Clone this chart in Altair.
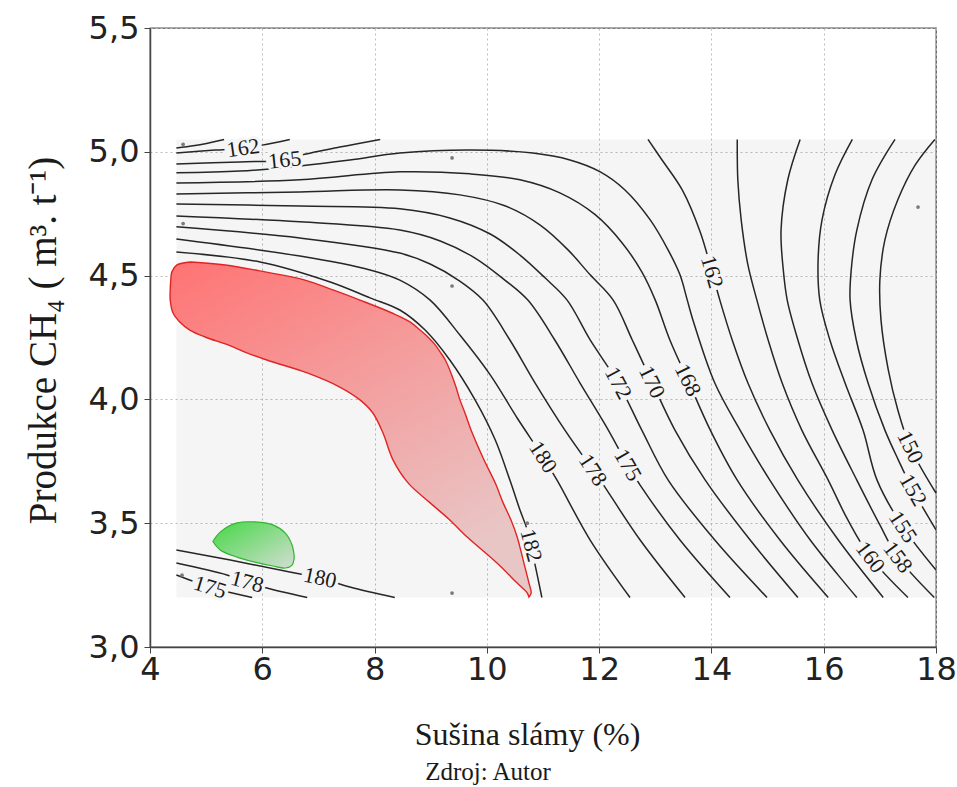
import altair as alt
import pandas as pd

# Extent of the fitted response surface (grey field)
X_MIN, X_MAX = 4.47, 18.0
Y_MIN, Y_MAX = 3.2, 5.05

# Contour pieces: vertices in (sušina %, produkce m3/t)
c160a_x = [4.47, 4.80, 5.32]
c160a_y = [5.015, 5.025, 5.05]

c162a_x = [4.47, 5.16, 5.66, 6.00, 6.49]
c162a_y = [4.995, 5.007, 5.015, 5.027, 5.05]

c165a_x = [4.47, 5.60, 6.40, 6.71, 7.38, 8.10]
c165a_y = [4.951, 4.959, 4.967, 4.987, 5.019, 5.05]

c165_x = [4.47, 5.60, 6.67, 7.56, 8.45, 9.70, 10.82, 11.48, 12.02, 12.46, 12.91, 13.23,
          13.44, 13.57, 13.67, 14.06, 14.51, 15.04, 15.76, 16.59]
c165_y = [4.915, 4.922, 4.943, 4.967, 4.995, 5.007, 4.995, 4.967, 4.919, 4.846, 4.725, 4.603,
          4.503, 4.401, 4.321, 4.066, 3.876, 3.674, 3.432, 3.2]

c168_x = [4.47, 6.67, 8.45, 9.70, 10.59, 11.30, 11.93, 12.41, 12.76, 13.00, 13.26, 13.58,
          13.98, 14.46, 15.22, 16.08]
c168_y = [4.874, 4.887, 4.919, 4.911, 4.887, 4.834, 4.746, 4.632, 4.515, 4.401, 4.240, 4.078,
          3.876, 3.674, 3.432, 3.2]

c170_x = [4.47, 6.67, 8.45, 9.52, 10.32, 10.95, 11.45, 11.84, 12.25, 12.59, 12.94, 13.35,
          13.89, 14.69, 15.54]
c170_y = [4.830, 4.838, 4.846, 4.826, 4.782, 4.704, 4.603, 4.503, 4.401, 4.240, 4.070, 3.876,
          3.674, 3.432, 3.2]

c172_x = [4.47, 6.67, 8.45, 9.34, 10.06, 10.59, 11.04, 11.43, 11.84, 12.34, 12.76, 13.23,
          14.06, 14.99]
c172_y = [4.789, 4.781, 4.770, 4.733, 4.668, 4.583, 4.490, 4.401, 4.240, 4.066, 3.876, 3.674,
          3.432, 3.2]

c175_x = [4.47, 6.67, 8.45, 9.17, 9.79, 10.32, 10.73, 11.21, 11.66, 12.11, 12.51, 12.73,
          13.44, 14.33]
c175_y = [4.741, 4.717, 4.684, 4.640, 4.571, 4.482, 4.401, 4.240, 4.066, 3.897, 3.735, 3.654,
          3.432, 3.2]

c178_x = [4.47, 6.67, 8.45, 8.99, 9.49, 9.93, 10.41, 10.86, 11.39, 11.89, 12.02, 12.73, 13.53]
c178_y = [4.697, 4.652, 4.591, 4.547, 4.482, 4.401, 4.240, 4.066, 3.876, 3.715, 3.674, 3.432, 3.2]

c180_x = [4.47, 6.67, 7.92, 8.45, 8.99, 9.52, 10.06, 10.54, 11.00, 11.25, 11.84, 12.55]
c180_y = [4.648, 4.579, 4.523, 4.482, 4.401, 4.260, 4.099, 3.925, 3.767, 3.674, 3.432, 3.2]

c182_x = [4.47, 5.96, 7.21, 7.92, 8.45, 8.90, 9.34, 9.79, 10.15, 10.41, 10.59, 10.72, 10.86, 10.98]
c182_y = [4.595, 4.555, 4.474, 4.410, 4.361, 4.280, 4.159, 3.998, 3.836, 3.674, 3.553, 3.473,
          3.331, 3.2]

c162b_x = [12.87, 13.12, 13.48, 13.80, 14.01, 14.15, 14.37, 14.65, 15.04, 15.54, 16.26, 17.06]
c162b_y = [5.05, 4.967, 4.846, 4.676, 4.515, 4.401, 4.240, 4.066, 3.876, 3.674, 3.432, 3.2]

c160b_x = [14.46, 14.47, 14.53, 14.65, 14.81, 15.01, 15.26, 15.61, 16.08, 16.43, 16.83, 17.50]
c160b_y = [5.05, 4.887, 4.725, 4.543, 4.401, 4.240, 4.066, 3.876, 3.674, 3.513, 3.363, 3.2]

c158_x = [15.58, 15.36, 15.24, 15.28, 15.35, 15.54, 15.79, 16.15, 16.59, 17.00, 17.32, 17.97]
c158_y = [5.05, 4.887, 4.684, 4.523, 4.401, 4.240, 4.066, 3.876, 3.674, 3.493, 3.363, 3.2]

c155_x = [16.51, 16.20, 15.97, 15.90, 15.93, 16.11, 16.38, 16.70, 16.95, 17.41, 18.0]
c155_y = [5.05, 4.907, 4.725, 4.563, 4.401, 4.240, 4.066, 3.876, 3.674, 3.485, 3.311]

c152_x = [17.27, 16.86, 16.59, 16.49, 16.47, 16.58, 16.79, 17.09, 17.33, 17.59, 18.0]
c152_y = [5.05, 4.887, 4.684, 4.523, 4.401, 4.240, 4.066, 3.876, 3.755, 3.634, 3.473]

c150_x = [17.98, 17.63, 17.32, 17.09, 17.00, 17.02, 17.15, 17.32, 17.54, 18.0]
c150_y = [5.05, 4.947, 4.806, 4.644, 4.482, 4.321, 4.119, 3.957, 3.808, 3.622]

c180b_x = [4.47, 5.43, 6.49, 7.03, 7.56, 8.36]
c180b_y = [3.392, 3.351, 3.303, 3.279, 3.242, 3.2]

c178b_x = [4.47, 5.37, 5.73, 6.01, 6.80]
c178b_y = [3.339, 3.291, 3.263, 3.242, 3.2]

c175b_x = [4.47, 5.07, 5.39, 5.82]
c175b_y = [3.291, 3.242, 3.222, 3.2]

pieces = [
    ("c160a", 160.0, c160a_x, c160a_y), ("c162a", 162.5, c162a_x, c162a_y),
    ("c165a", 165.0, c165a_x, c165a_y), ("c165", 165.0, c165_x, c165_y),
    ("c168", 167.5, c168_x, c168_y), ("c170", 170.0, c170_x, c170_y),
    ("c172", 172.5, c172_x, c172_y), ("c175", 175.0, c175_x, c175_y),
    ("c178", 177.5, c178_x, c178_y), ("c180", 180.0, c180_x, c180_y),
    ("c182", 182.5, c182_x, c182_y), ("c162b", 162.5, c162b_x, c162b_y),
    ("c160b", 160.0, c160b_x, c160b_y), ("c158", 157.5, c158_x, c158_y),
    ("c155", 155.0, c155_x, c155_y), ("c152", 152.5, c152_x, c152_y),
    ("c150", 150.0, c150_x, c150_y), ("c180b", 180.0, c180b_x, c180b_y),
    ("c178b", 177.5, c178b_x, c178b_y), ("c175b", 175.0, c175b_x, c175b_y),
]

# Inline contour labels: text, position, rotation (deg, clockwise)
label_text = ["162", "165", "168", "170", "172", "175", "178", "180", "182",
              "162", "160", "158", "155", "152", "150", "180", "178", "175"]
label_x = [5.66, 6.40, 13.58, 12.94, 12.34, 12.51, 11.89, 11.00, 10.79,
           14.01, 16.83, 17.32, 17.41, 17.59, 17.54, 7.03, 5.73, 5.07]
label_y = [5.015, 4.967, 4.078, 4.070, 4.066, 3.735, 3.715, 3.767, 3.41,
           4.515, 3.363, 3.363, 3.485, 3.634, 3.808, 3.279, 3.263, 3.242]
label_angle = [352, 354, 64, 64, 62, 60, 57, 57, 75,
               74, 53, 53, 57, 60, 64, 12, 15, 17]

# Optimum region (red) bounded left/right at each production level
red_y = [4.555, 4.543, 4.515, 4.482, 4.442, 4.401, 4.349, 4.313, 4.280, 4.252, 4.220, 4.191,
         4.159, 4.107, 4.050, 3.998, 3.945, 3.864, 3.755, 3.662, 3.582, 3.513, 3.444, 3.339,
         3.258, 3.218, 3.202]
red_left = [4.73, 4.48, 4.39, 4.37, 4.36, 4.36, 4.41, 4.53, 4.71, 4.98, 5.39, 5.69,
            6.08, 6.80, 7.38, 7.74, 7.97, 8.15, 8.33, 8.60, 8.99, 9.34, 9.65, 10.18,
            10.54, 10.72, 10.75]
red_right = [4.73, 5.34, 6.05, 6.76, 7.26, 7.74, 8.31, 8.63, 8.81, 8.95, 9.08, 9.17,
             9.26, 9.36, 9.45, 9.52, 9.61, 9.74, 9.95, 10.15, 10.29, 10.43, 10.54, 10.66,
             10.75, 10.79, 10.75]

# Secondary region (green)
green_x = [5.12, 5.25, 5.55, 5.87, 6.19, 6.41, 6.53, 6.57]
green_top = [3.426, 3.464, 3.501, 3.505, 3.493, 3.460, 3.412, 3.364]
green_bot = [3.426, 3.392, 3.363, 3.343, 3.327, 3.319, 3.331, 3.364]

# Measured design points
pts_x = [4.59, 4.59, 9.38, 9.38, 9.38, 17.68, 4.57, 10.72]
pts_y = [5.03, 4.71, 4.975, 4.458, 3.218, 4.777, 3.29, 3.50]

x_ticks = [4, 6, 8, 10, 12, 14, 16, 18]
y_ticks = [3.0, 3.5, 4.0, 4.5, 5.0, 5.5]

# ---- tables ----
line_rows = []
for name, lev, xs, ys in pieces:
    for i, (xv, yv) in enumerate(zip(xs, ys)):
        line_rows.append({"piece": name, "level": lev, "i": i, "x": xv, "y": yv})
lines_df = pd.DataFrame(line_rows)
labels_df = pd.DataFrame({"t": label_text, "x": label_x, "y": label_y, "a": label_angle})
red_df = pd.DataFrame({"y": red_y, "x": red_left, "x2": red_right})
green_df = pd.DataFrame({"x": green_x, "y": green_top, "y2": green_bot})
pts_df = pd.DataFrame({"x": pts_x, "y": pts_y})
field_df = pd.DataFrame({"x": [X_MIN], "x2": [X_MAX], "y": [Y_MIN], "y2": [Y_MAX]})

BG = "#f5f5f5"
LABEL_SIZE = 22
xs_ = alt.Scale(domain=[4, 18], nice=False, zero=False)
ys_ = alt.Scale(domain=[3.0, 5.5], nice=False, zero=False)

x_axis = alt.Axis(
    values=x_ticks, title="Sušina slámy (%)", titleFont="Liberation Serif",
    titleFontSize=32, titleFontWeight="normal", titleColor="#1a1a1a",
    titleX=377, titleY=87, titleAlign="center", titleBaseline="middle",
    labelFont="DejaVu Sans", labelFontSize=32, labelColor="#222222", labelPadding=1,
    labelFlush=False, labelOverlap=False, tickSize=6, tickColor="#444444",
    domainColor="#444444", domainWidth=1.5, grid=True, gridColor="#bdbdbd",
    gridDash=[2, 3], gridWidth=1,
)
y_axis = alt.Axis(
    values=y_ticks, labelExpr="replace(format(datum.value, '.1f'), '.', ',')",
    title="Produkce CH₄ ( m³. t⁻¹)", titleFont="Liberation Serif",
    titleFontSize=39, titleFontWeight="normal", titleColor="#1a1a1a",
    titleAngle=270, titleX=-107, titleY=312, titleAlign="center", titleBaseline="middle",
    labelFont="DejaVu Sans", labelFontSize=32, labelColor="#222222", labelPadding=5,
    labelFlush=False, labelOverlap=False, tickSize=6, tickColor="#444444",
    domainColor="#444444", domainWidth=1.5, grid=True, gridColor="#bdbdbd",
    gridDash=[2, 3], gridWidth=1,
)


def X(field="x"):
    return alt.X(f"{field}:Q", scale=xs_, axis=x_axis)


def Y(field="y"):
    return alt.Y(f"{field}:Q", scale=ys_, axis=y_axis)


field = alt.Chart(field_df).mark_rect(color="#000000", opacity=0.04).encode(
    x=X(), x2="x2:Q", y=Y(), y2="y2:Q"
)

red = alt.Chart(red_df).mark_area(
    orient="horizontal", interpolate="catmull-rom",
    fill=alt.Gradient(
        gradient="linear",
        stops=[alt.GradientStop(color="#ff7373", offset=0),
               alt.GradientStop(color="#f59a9a", offset=0.45),
               alt.GradientStop(color="#e9c6c6", offset=1)],
        x1=0, y1=0, x2=0.6, y2=1,
    ),
    stroke="#e02424", strokeWidth=1.4,
).encode(y=Y(), x=X(), x2="x2:Q")

green = alt.Chart(green_df).mark_area(
    interpolate="catmull-rom",
    fill=alt.Gradient(
        gradient="linear",
        stops=[alt.GradientStop(color="#45d845", offset=0),
               alt.GradientStop(color="#d3ddd3", offset=1)],
        x1=0, y1=0, x2=1, y2=1,
    ),
    stroke="#33b433", strokeWidth=1.2,
).encode(x=X(), y=Y(), y2="y2:Q")

contours = alt.Chart(lines_df).mark_line(
    color="#262626", strokeWidth=1.5, interpolate="catmull-rom"
).encode(x=X(), y=Y(), detail="piece:N", order="i:Q")

# Gap behind each inline label: solid wide glyphs in the field colour
halo = alt.Chart(labels_df).transform_calculate(
    h="replace(datum.t, regexp('[0-9]', 'g'), '0')"
).mark_text(
    font="Liberation Serif", fontSize=LABEL_SIZE, fontWeight="bold", color=BG, stroke=BG,
    strokeWidth=6, align="center", baseline="middle",
).encode(x=X(), y=Y(), text="h:N", angle=alt.Angle("a:Q", scale=None))

labels = alt.Chart(labels_df).mark_text(
    font="Liberation Serif", fontSize=LABEL_SIZE, color="#1a1a1a",
    align="center", baseline="middle",
).encode(x=X(), y=Y(), text="t:N", angle=alt.Angle("a:Q", scale=None))

points = alt.Chart(pts_df).mark_circle(size=14, color="#7a7a7a", opacity=1).encode(
    x=X(), y=Y()
)

source = alt.Chart(pd.DataFrame({"t": ["Zdroj: Autor"]})).mark_text(
    font="Liberation Serif", fontSize=25, color="#1a1a1a", align="center", baseline="middle"
).encode(text="t:N", x=alt.value(338), y=alt.value(744))

chart = alt.layer(
    field, red, green, contours, halo, labels, points, source
).properties(
    width=786, height=619,
    autosize=alt.AutoSizeParams(type="none"),
    padding={"left": 150, "top": 28, "right": 21, "bottom": 140},
    background="white",
).configure_view(stroke="#555555", strokeWidth=1.3)

chart.save("out.html", embed_options={"renderer": "svg", "actions": False})
